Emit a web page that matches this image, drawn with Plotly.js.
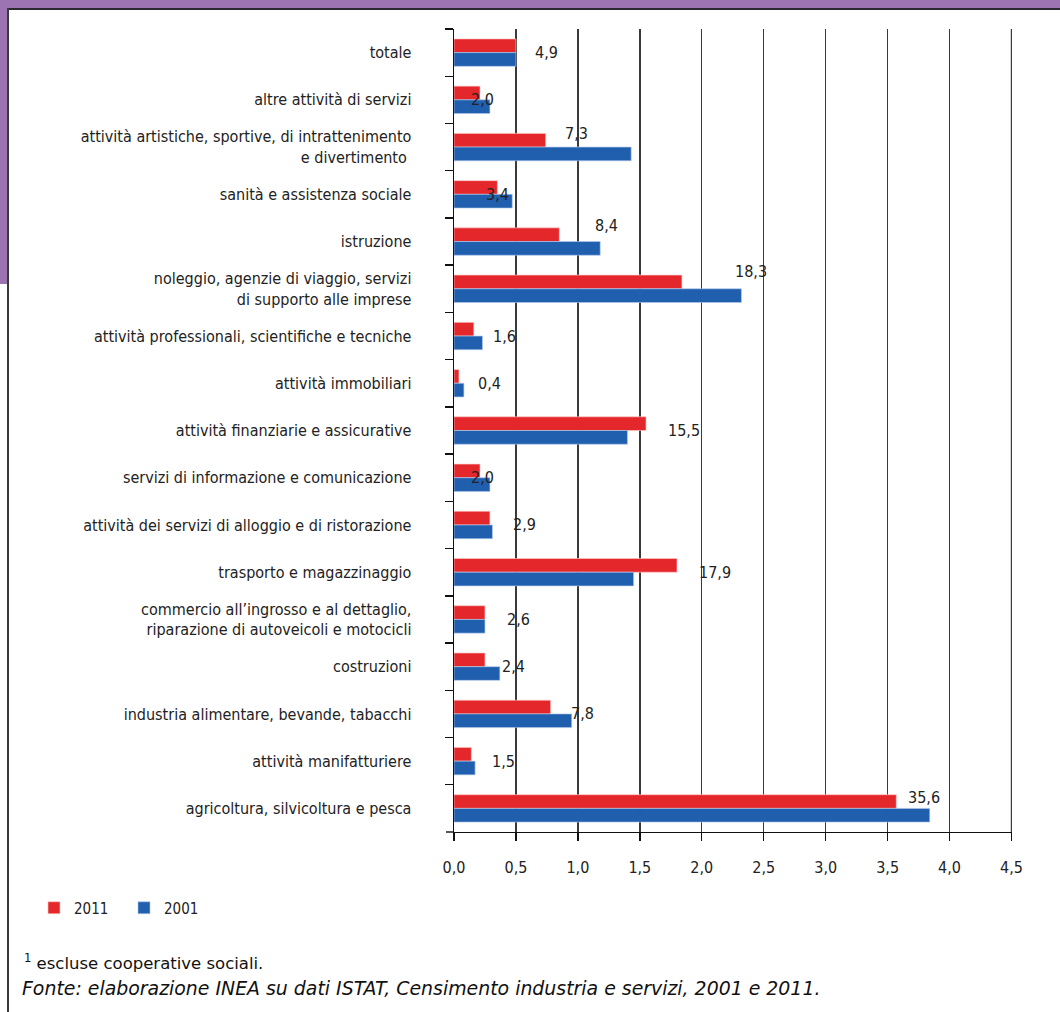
<!DOCTYPE html>
<html>
<head>
<meta charset="utf-8">
<script src="https://cdn.plot.ly/plotly-3.0.1.min.js"></script>
<style>
  html, body { margin:0; padding:0; background:#fff; }
  #wrap { position:relative; width:1060px; height:1012px; overflow:hidden; background:#fff; }
  #chart { position:absolute; left:0; top:0; width:1060px; height:1012px; }
  .deco { position:absolute; }
</style>
</head>
<body>
<div id="wrap">
  <div class="deco" style="left:0;top:0;width:1060px;height:8px;background:#9d74b2;"></div>
  <div class="deco" style="left:0;top:0;width:7px;height:284px;background:#9d74b2;"></div>
  <div class="deco" style="left:7px;top:8px;width:1053px;height:2px;background:#2b2830;"></div>
  <div class="deco" style="left:7px;top:8px;width:2px;height:1004px;background:#3a3a3a;"></div>
  <div id="chart"></div>
</div>
<script>
const categories = [
  "totale",
  "altre attività di servizi",
  "attività artistiche, sportive, di intrattenimento<br>e divertimento\u00a0",
  "sanità e assistenza sociale",
  "istruzione",
  "noleggio, agenzie di viaggio, servizi<br>di supporto alle imprese",
  "attività professionali, scientifiche e tecniche",
  "attività immobiliari",
  "attività finanziarie e assicurative",
  "servizi di informazione e comunicazione",
  "attività dei servizi di alloggio e di ristorazione",
  "trasporto e magazzinaggio",
  "commercio all’ingrosso e al dettaglio,<br>riparazione di autoveicoli e motocicli",
  "costruzioni",
  "industria alimentare, bevande, tabacchi",
  "attività manifatturiere",
  "agricoltura, silvicoltura e pesca"
];
const values2011 = [0.50,0.21,0.74,0.35,0.85,1.84,0.16,0.04,1.55,0.21,0.29,1.80,0.25,0.25,0.78,0.14,3.57];
const values2001 = [0.50,0.29,1.43,0.47,1.18,2.32,0.23,0.08,1.40,0.29,0.31,1.45,0.25,0.37,0.95,0.17,3.84];
const valueLabels = ["4,9","2,0","7,3","3,4","8,4","18,3","1,6","0,4","15,5","2,0","2,9","17,9","2,6","2,4","7,8","1,5","35,6"];
const xTickValues = [0,0.5,1,1.5,2,2.5,3,3.5,4,4.5];
const seriesNames = ["2011","2001"];

// label placement (layout only)
const labelX = [0.75,0.23,0.99,0.35,1.23,2.40,0.41,0.29,1.86,0.23,0.57,2.11,0.52,0.48,1.04,0.40,3.79];
const labelShift = [0,0,14,0,16,17,0,0,0,0,0,0,0,0,0,0,11];

const condensed = '"Liberation Sans Narrow", "DejaVu Sans Condensed", "Arial Narrow", sans-serif';
const regular = '"DejaVu Sans", "Liberation Sans", Arial, sans-serif';

const traces = [
  {
    type:'bar', orientation:'h', name:seriesNames[0],
    y:categories, x:values2011,
    marker:{color:'#e4272b', line:{color:'rgba(255,200,200,0.8)', width:0.8}},
    hoverinfo:'skip'
  },
  {
    type:'bar', orientation:'h', name:seriesNames[1],
    y:categories, x:values2001,
    marker:{color:'#1f5fae', line:{color:'rgba(180,200,235,0.8)', width:0.8}},
    hoverinfo:'skip'
  }
];

const annotations = valueLabels.map((t,i)=>({
  x:labelX[i], y:categories[i], xref:'x', yref:'y',
  text:t, showarrow:false, yshift:labelShift[i],
  font:{family:condensed, size:16, color:'#222'}
}));

annotations.push({
  xref:'paper', yref:'paper', x:(22-454)/558, y:(832-962)/803, xanchor:'left', yanchor:'middle',
  text:'<sup>1</sup> escluse cooperative sociali.', showarrow:false,
  font:{family:regular, size:16.5, color:'#111'}
});
annotations.push({
  xref:'paper', yref:'paper', x:(20-454)/558, y:(832-988)/803, xanchor:'left', yanchor:'middle',
  text:'<i>Fonte: elaborazione INEA su dati ISTAT, Censimento industria e servizi, 2001 e 2011.</i>', showarrow:false,
  font:{family:regular, size:18.9, color:'#111'}
});

const xMax = xTickValues[xTickValues.length-1];

const layout = {
  width:1060, height:1012,
  margin:{l:454, r:48, t:29, b:180},
  paper_bgcolor:'rgba(0,0,0,0)', plot_bgcolor:'rgba(0,0,0,0)',
  barmode:'group', bargap:0.42, bargroupgap:0,
  separators:',.',
  showlegend:true,
  legend:{
    orientation:'h', x:(34-454)/558, y:(832-908)/803, xanchor:'left', yanchor:'middle',
    font:{family:condensed, size:15, color:'#222'},
    traceorder:'normal', entrywidth:45, itemwidth:30, bgcolor:'rgba(0,0,0,0)'
  },
  shapes:[
    {type:'line', xref:'paper', yref:'paper', x0:-8/558, x1:0, y0:0, y1:0, line:{color:'#111', width:1.4}},
    {type:'line', xref:'x', yref:'paper', x0:xMax, x1:xMax, y0:0, y1:1, line:{color:'#3a3a3a', width:1.4}}
  ],
  xaxis:{
    range:[0,4.504], tickvals:xTickValues, tickformat:'.1f',
    showgrid:true, gridcolor:'#3a3a3a', gridwidth:1.4,
    showline:true, linecolor:'#111', linewidth:1.4,
    ticks:'outside', ticklen:8, tickcolor:'#111', tickwidth:1.4,
    ticklabelstandoff:12,
    tickfont:{family:condensed, size:16, color:'#222'},
    zeroline:false, fixedrange:true
  },
  yaxis:{
    type:'category', categoryorder:'array', categoryarray:categories,
    autorange:'reversed',
    showgrid:false, zeroline:false,
    showline:true, linecolor:'#111', linewidth:1.4,
    ticks:'outside', ticklen:8, tickcolor:'#111', tickwidth:1.4,
    tickson:'boundaries', ticklabelstandoff:38,
    tickfont:{family:condensed, size:16, color:'#222'},
    fixedrange:true
  },
  annotations:annotations
};

Plotly.newPlot('chart', traces, layout, {staticPlot:true, displayModeBar:false});
</script>
</body>
</html>
